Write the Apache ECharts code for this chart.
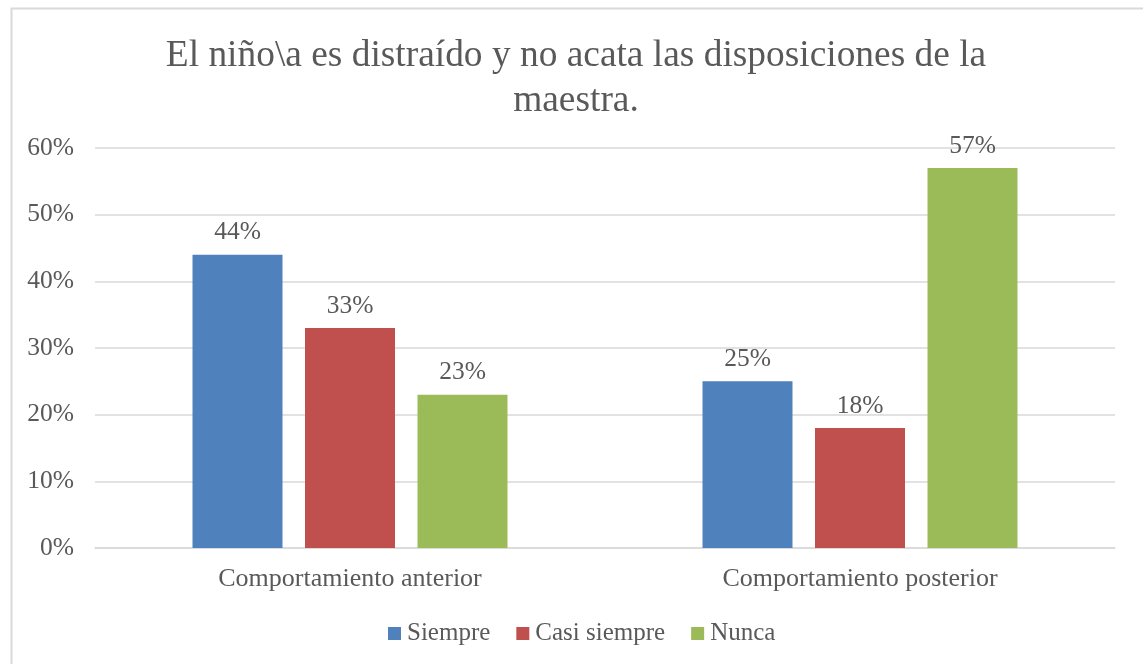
<!DOCTYPE html>
<html>
<head>
<meta charset="utf-8">
<script src="https://cdn.jsdelivr.net/npm/echarts@6/dist/echarts.min.js"></script>
<style>html,body{margin:0;padding:0;background:#fff}#c{width:1143px;height:664px}</style>
</head>
<body>
<div id="c"></div>
<script>
const titleText = 'El niño\\a es distraído y no acata las disposiciones de la\nmaestra.';
const categories = ['Comportamiento anterior', 'Comportamiento posterior'];
const seriesNames = ['Siempre', 'Casi siempre', 'Nunca'];
const siempre = [44, 25];
const casiSiempre = [33, 18];
const nunca = [23, 57];
const colors = ['#4F81BD', '#C0504D', '#9BBB59'];
const yTicks = [0, 10, 20, 30, 40, 50, 60];

const font = '"Liberation Serif", "Times New Roman", serif';
const txt = '#595959';
const dataSets = [siempre, casiSiempre, nunca];

const chart = echarts.init(document.getElementById('c'));
chart.setOption({
  animation: false,
  color: colors,
  graphic: [{
    type: 'rect', left: 9, top: 6,
    shape: { width: 1160, height: 700 },
    style: { fill: 'none', stroke: '#d9d9d9', lineWidth: 2 },
    z: -1
  }],
  title: {
    text: titleText,
    left: 571, textAlign: 'center', top: 29,
    textStyle: { fontFamily: font, fontSize: 37.4, fontWeight: 'normal', color: txt, lineHeight: 45 }
  },
  legend: {
    data: seriesNames,
    left: 383, top: 616,
    itemWidth: 13, itemHeight: 13, itemGap: 26,
    icon: 'rect',
    textStyle: { fontFamily: font, fontSize: 25, color: txt, padding: [0, 0, 0, 1] }
  },
  grid: { left: 95, right: 28, top: 148, bottom: 116, containLabel: false },
  xAxis: {
    type: 'category', data: categories,
    axisLine: { lineStyle: { color: '#d9d9d9', width: 1.5 } },
    axisTick: { show: false },
    axisLabel: { fontFamily: font, fontSize: 26, color: txt, margin: 18 }
  },
  yAxis: {
    type: 'value', min: 0, max: 60, interval: 10,
    axisLabel: {
      fontFamily: font, fontSize: 25.5, color: txt, margin: 21,
      formatter: v => yTicks.includes(v) ? v + '%' : ''
    },
    splitLine: { lineStyle: { color: '#d9d9d9', width: 1.5 } },
    axisLine: { show: false }, axisTick: { show: false }
  },
  series: seriesNames.map((n, i) => ({
    name: n, type: 'bar', data: dataSets[i],
    barWidth: 90, barGap: '25%',
    label: {
      show: true, position: 'top', distance: 9,
      formatter: p => p.value + '%',
      fontFamily: font, fontSize: 25.5, color: txt
    }
  }))
});
</script>
</body>
</html>
